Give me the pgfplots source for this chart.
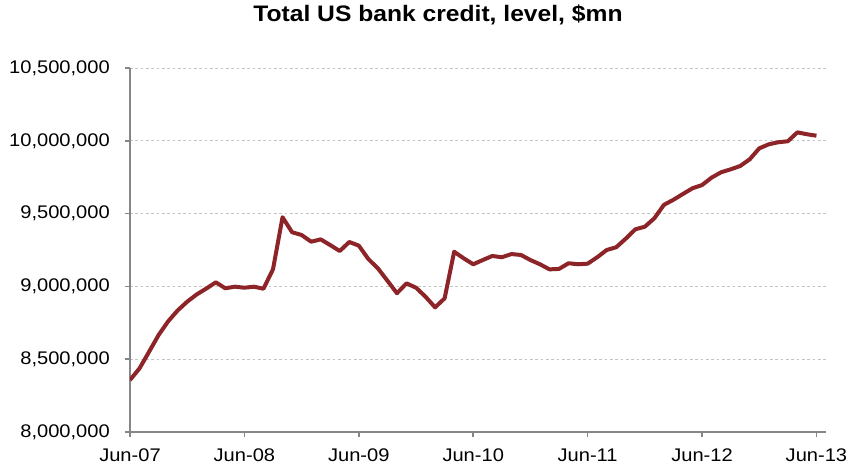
\documentclass[border=0pt]{standalone}
\usepackage{fontspec}
\setmainfont[FakeStretch=1.1]{Liberation Sans}
\usepackage{pgfplots}
\pgfplotsset{compat=1.18}
\definecolor{linered}{HTML}{8C2428}
\definecolor{axisgray}{HTML}{868686}
\definecolor{gridgray}{HTML}{C4C4C4}
\begin{document}
\begin{tikzpicture}
\begin{axis}[
  name=ax,
  scale only axis,
  width=522pt, height=273pt,
  xmin=0, xmax=73,
  ymin=8000000, ymax=10500000,
  axis x line*=bottom,
  axis y line*=left,
  axis line style={axisgray, line width=1.2pt},
  xtick={0,12,24,36,48,60,72},
  xticklabels={Jun-07,Jun-08,Jun-09,Jun-10,Jun-11,Jun-12,Jun-13},
  ytick={8000000,8500000,9000000,9500000,10000000,10500000},
  scaled y ticks=false,
  /pgf/number format/.cd, fixed, 1000 sep={,}, assume math mode=true,
  /pgfplots/.cd,
  tick align=outside,
  tick style={axisgray, line width=1.2pt},
  major tick length=4pt,
  ymajorgrids,
  major grid style={gridgray, dashed, line width=0.7pt, dash pattern=on 2pt off 2pt},
  tick label style={font=\fontsize{13.7pt}{15pt}\selectfont, text=black},
  yticklabel style={inner sep=0pt, anchor=east, xshift=-11pt},
  xticklabel style={inner sep=0pt, anchor=north, yshift=-8.5pt},
  title={Total US bank credit, level, \$mn},
  title style={font=\fontsize{16.8pt}{19pt}\selectfont\bfseries, at={(0.4425,1)}, anchor=base, yshift=29pt},
]
\addplot[linered, line width=3pt, line join=round] table[x=m, y=v] {
m v
0 8357000
1 8437000
2 8551000
3 8666000
4 8760000
5 8835000
6 8895000
7 8945000
8 8985000
9 9028000
10 8987000
11 8998000
12 8991000
13 8998000
14 8984000
15 9118000
16 9475000
17 9372000
18 9353000
19 9307000
20 9323000
21 9284000
22 9243000
23 9305000
24 9280000
25 9188000
26 9124000
27 9039000
28 8953000
29 9021000
30 8991000
31 8929000
32 8856000
33 8918000
34 9238000
35 9193000
36 9152000
37 9181000
38 9209000
39 9200000
40 9222000
41 9216000
42 9181000
43 9152000
44 9117000
45 9120000
46 9159000
47 9152000
48 9156000
49 9200000
50 9250000
51 9269000
52 9328000
53 9392000
54 9410000
55 9468000
56 9560000
57 9595000
58 9635000
59 9674000
60 9696000
61 9747000
62 9784000
63 9804000
64 9827000
65 9873000
66 9948000
67 9976000
68 9990000
69 9997000
70 10058000
71 10045000
72 10035000
};
\end{axis}
\pgfresetboundingbox
\path[use as bounding box] ([shift={(-97.5pt,-24.75pt)}]ax.south west) rectangle ([shift={(540.75pt,324pt)}]ax.south west);
\end{tikzpicture}
\end{document}
